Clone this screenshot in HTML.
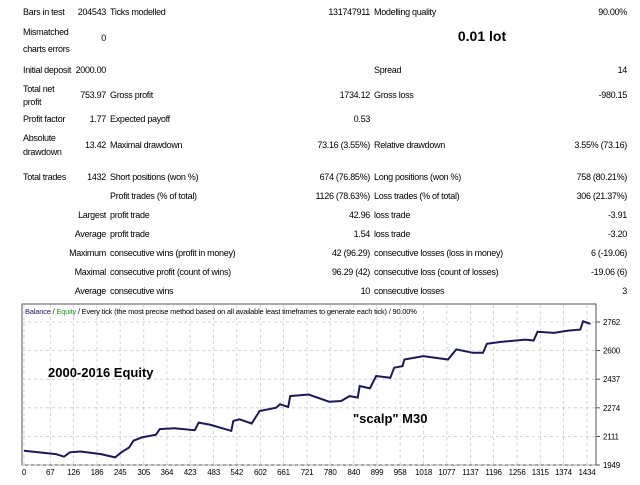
<!DOCTYPE html>
<html><head><meta charset="utf-8"><style>
body{margin:0;background:#fff;width:640px;height:480px;overflow:hidden;font-family:"Liberation Sans",sans-serif;}
svg text{font-family:"Liberation Sans",sans-serif;}
</style></head><body>
<svg id="s" width="640" height="480" xmlns="http://www.w3.org/2000/svg">
<g font-size="9" letter-spacing="-0.3" fill="#000">
<text x="23" y="15">Bars in test</text><text x="106" y="15" text-anchor="end">204543</text><text x="110" y="15">Ticks modelled</text><text x="370" y="15" text-anchor="end">131747911</text><text x="374" y="15">Modelling quality</text><text x="627" y="15" text-anchor="end">90.00%</text>
<text x="23" y="35">Mismatched</text><text x="23" y="52">charts errors</text><text x="106" y="41" text-anchor="end">0</text>
<text x="23" y="73">Initial deposit</text><text x="106" y="73" text-anchor="end">2000.00</text><text x="374" y="73">Spread</text><text x="627" y="73" text-anchor="end">14</text>
<text x="23" y="92">Total net</text><text x="23" y="105">profit</text><text x="106" y="98" text-anchor="end">753.97</text><text x="110" y="98">Gross profit</text><text x="370" y="98" text-anchor="end">1734.12</text><text x="374" y="98">Gross loss</text><text x="627" y="98" text-anchor="end">-980.15</text>
<text x="23" y="122">Profit factor</text><text x="106" y="122" text-anchor="end">1.77</text><text x="110" y="122">Expected payoff</text><text x="370" y="122" text-anchor="end">0.53</text>
<text x="23" y="141">Absolute</text><text x="23" y="155">drawdown</text><text x="106" y="148" text-anchor="end">13.42</text><text x="110" y="148">Maximal drawdown</text><text x="370" y="148" text-anchor="end">73.16 (3.55%)</text><text x="374" y="148">Relative drawdown</text><text x="627" y="148" text-anchor="end">3.55% (73.16)</text>
<text x="23" y="180">Total trades</text><text x="106" y="180" text-anchor="end">1432</text><text x="110" y="180">Short positions (won %)</text><text x="370" y="180" text-anchor="end">674 (76.85%)</text><text x="374" y="180">Long positions (won %)</text><text x="627" y="180" text-anchor="end">758 (80.21%)</text>
<text x="110" y="199">Profit trades (% of total)</text><text x="370" y="199" text-anchor="end">1126 (78.63%)</text><text x="374" y="199">Loss trades (% of total)</text><text x="627" y="199" text-anchor="end">306 (21.37%)</text>
<text x="106" y="218" text-anchor="end">Largest</text><text x="110" y="218">profit trade</text><text x="370" y="218" text-anchor="end">42.96</text><text x="374" y="218">loss trade</text><text x="627" y="218" text-anchor="end">-3.91</text>
<text x="106" y="237" text-anchor="end">Average</text><text x="110" y="237">profit trade</text><text x="370" y="237" text-anchor="end">1.54</text><text x="374" y="237">loss trade</text><text x="627" y="237" text-anchor="end">-3.20</text>
<text x="106" y="256" text-anchor="end">Maximum</text><text x="110" y="256">consecutive wins (profit in money)</text><text x="370" y="256" text-anchor="end">42 (96.29)</text><text x="374" y="256">consecutive losses (loss in money)</text><text x="627" y="256" text-anchor="end">6 (-19.06)</text>
<text x="106" y="275" text-anchor="end">Maximal</text><text x="110" y="275">consecutive profit (count of wins)</text><text x="370" y="275" text-anchor="end">96.29 (42)</text><text x="374" y="275">consecutive loss (count of losses)</text><text x="627" y="275" text-anchor="end">-19.06 (6)</text>
<text x="106" y="294" text-anchor="end">Average</text><text x="110" y="294">consecutive wins</text><text x="370" y="294" text-anchor="end">10</text><text x="374" y="294">consecutive losses</text><text x="627" y="294" text-anchor="end">3</text>
</g>
<text x="482" y="41" font-size="14" font-weight="bold" text-anchor="middle">0.01 lot</text>
<g id="chart">
<rect x="22" y="304" width="574" height="161" fill="#fff" stroke="#555" stroke-width="1"/>
<g id="grid"></g>
<text x="25" y="314" font-size="7.5" letter-spacing="-0.2"><tspan fill="#1a1a6a">Balance</tspan> / <tspan fill="#2a9a2a">Equity</tspan> / Every tick (the most precise method based on all available least timeframes to generate each tick) / 90.00%</text>
<text x="48" y="377" font-size="13" font-weight="bold">2000-2016 Equity</text>
<text x="353" y="423" font-size="13" font-weight="bold">"scalp"   M30</text>
<g id="ticks" font-size="8" letter-spacing="-0.2"></g>
<polyline id="eq" fill="none" stroke="#1a1a5a" stroke-width="2"/>
</g>
</svg>
<script>
const xTicks=[0,67,126,186,245,305,364,423,483,542,602,661,721,780,840,899,958,1018,1077,1137,1196,1256,1315,1374,1434];
const yTicks=[1949,2111,2274,2437,2600,2762];
const trades=[0,81,102,117,144,196,232,248,268,279,300,336,346,383,435,445,476,528,533,549,580,600,642,652,673,678,725,777,808,829,850,855,881,897,933,943,964,969,1017,1080,1101,1143,1169,1179,1215,1277,1298,1308,1350,1386,1417,1424,1443];
const equity=[2030,2011,1996,2021,2026,2011,1992,2021,2049,2087,2106,2121,2153,2158,2147,2190,2177,2143,2200,2209,2185,2256,2275,2294,2279,2341,2350,2309,2313,2341,2332,2398,2385,2455,2445,2502,2511,2549,2568,2549,2606,2587,2587,2638,2649,2662,2657,2706,2700,2713,2719,2766,2751];
const NS='http://www.w3.org/2000/svg';
const X=t=>24+t/1434*563;
const Y=v=>465-(v-1949)/813*143;
const grid=document.getElementById('grid'),ticks=document.getElementById('ticks');
xTicks.forEach(t=>{
  const l=document.createElementNS(NS,'line');
  
  
  l.setAttribute('x1',X(t));l.setAttribute('x2',X(t));l.setAttribute('y1',305);l.setAttribute('y2',465);
  l.setAttribute('stroke','#c8c8c8');l.setAttribute('stroke-dasharray','3,3');l.setAttribute('stroke-width','0.8');
  grid.appendChild(l);
  const tx=document.createElementNS(NS,'text');
  
  
  tx.setAttribute('x',X(t));tx.setAttribute('y',475);tx.setAttribute('text-anchor','middle');
  tx.textContent=t;ticks.appendChild(tx);
});
yTicks.forEach(v=>{
  const l=document.createElementNS(NS,'line');
  
  
  l.setAttribute('x1',22);l.setAttribute('x2',596);l.setAttribute('y1',Y(v));l.setAttribute('y2',Y(v));
  l.setAttribute('stroke','#c8c8c8');l.setAttribute('stroke-dasharray','3,3');l.setAttribute('stroke-width','0.8');
  grid.appendChild(l);
  const m=document.createElementNS(NS,'line');
  
  
  m.setAttribute('x1',596);m.setAttribute('x2',600);m.setAttribute('y1',Y(v));m.setAttribute('y2',Y(v));m.setAttribute('stroke','#555');
  ticks.appendChild(m);
  const tx=document.createElementNS(NS,'text');
  
  
  tx.setAttribute('x',603);tx.setAttribute('y',Y(v)+3);
  tx.textContent=v;ticks.appendChild(tx);
});
document.getElementById('eq').setAttribute('points',trades.map((t,i)=>X(t).toFixed(1)+','+Y(equity[i]).toFixed(1)).join(' '));
</script>
</body></html>
